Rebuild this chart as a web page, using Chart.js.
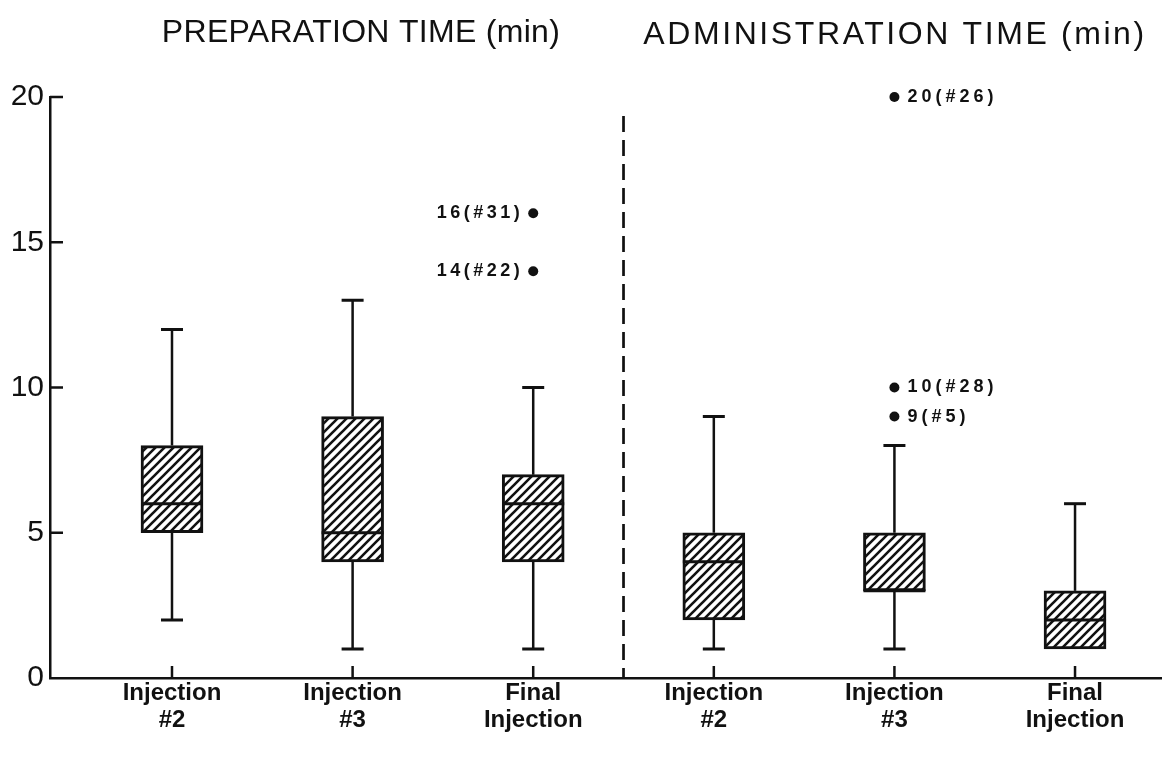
<!DOCTYPE html>
<html>
<head>
<meta charset="utf-8">
<title>Preparation and administration time</title>
<script src="https://cdn.jsdelivr.net/npm/chart.js@4.4.1/dist/chart.umd.min.js"></script>
<style>
  html, body { margin: 0; padding: 0; background: #fff; }
  canvas { display: block; }
</style>
</head>
<body>
<canvas id="boxChart" width="1166" height="759"></canvas>
<script>
// groups: 3 preparation-time boxes, then 3 administration-time boxes
const categories = [
  ["Injection", "#2"],
  ["Injection", "#3"],
  ["Final", "Injection"],
  ["Injection", "#2"],
  ["Injection", "#3"],
  ["Final", "Injection"],
];
const whiskerLow = [2, 1, 1, 1, 1, 1];
const quartile1 = [5, 4, 4, 2, 3, 1];
const median = [6, 5, 6, 4, 3, 2];
const quartile3 = [8, 9, 7, 5, 5, 3];
const whiskerHigh = [12, 13, 10, 9, 8, 6];

// outliers: group index, minutes, patient number
const outlierGroup = [2, 2, 4, 4, 4];
const outlierValue = [16, 14, 20, 10, 9];
const outlierCase = ["#31", "#22", "#26", "#28", "#5"];

const yTicks = [0, 5, 10, 15, 20];
const panelTitles = ["PREPARATION TIME (min)", "ADMINISTRATION TIME (min)"];
const dividerAt = 2.5;

const INK = "#111";

function makeHatch() {
  const size = 9;
  const c = document.createElement("canvas");
  c.width = size;
  c.height = size;
  const g = c.getContext("2d");
  g.fillStyle = "#fff";
  g.fillRect(0, 0, size, size);
  g.strokeStyle = INK;
  g.lineWidth = 2.6;
  g.beginPath();
  g.moveTo(-size, size * 2); g.lineTo(size * 2, -size);
  g.moveTo(-size, size); g.lineTo(size, -size);
  g.moveTo(0, size * 2); g.lineTo(size * 2, 0);
  g.stroke();
  return g.createPattern(c, "repeat");
}

const boxData = categories.map((_, i) => ({ x: i, y: [quartile1[i], quartile3[i]] }));
const outlierData = outlierValue.map((v, i) => ({ x: outlierGroup[i], y: v }));

const boxPlotPlugin = {
  id: "boxPlot",
  afterDatasetsDraw(chart) {
    const { ctx, scales: { x, y } } = chart;
    ctx.save();
    ctx.strokeStyle = INK;
    ctx.lineCap = "butt";

    // whiskers, caps and medians
    categories.forEach((_, i) => {
      const cx = x.getPixelForValue(i);
      const yLow = y.getPixelForValue(whiskerLow[i]);
      const yHigh = y.getPixelForValue(whiskerHigh[i]);
      const yQ1 = y.getPixelForValue(quartile1[i]);
      const yQ3 = y.getPixelForValue(quartile3[i]);
      const yMed = y.getPixelForValue(median[i]);

      ctx.lineWidth = 2.5;
      ctx.beginPath();
      ctx.moveTo(cx, yQ3); ctx.lineTo(cx, yHigh);
      if (whiskerLow[i] < quartile1[i]) {
        ctx.moveTo(cx, yQ1); ctx.lineTo(cx, yLow);
      }
      ctx.stroke();

      ctx.lineWidth = 3;
      ctx.beginPath();
      ctx.moveTo(cx - 11, yHigh); ctx.lineTo(cx + 11, yHigh);
      if (whiskerLow[i] < quartile1[i]) {
        ctx.moveTo(cx - 11, yLow); ctx.lineTo(cx + 11, yLow);
      }
      ctx.stroke();

      ctx.lineWidth = 3;
      ctx.beginPath();
      ctx.moveTo(cx - 31, yMed); ctx.lineTo(cx + 31, yMed);
      ctx.stroke();
    });

    // outlier labels
    ctx.fillStyle = INK;
    ctx.font = "bold 18px 'Liberation Sans', Arial, sans-serif";
    ctx.textBaseline = "middle";
    outlierValue.forEach((v, i) => {
      const px = x.getPixelForValue(outlierGroup[i]);
      const py = y.getPixelForValue(v);
      const text = v + "(" + outlierCase[i] + ")";
      if (outlierGroup[i] < dividerAt) {
        ctx.letterSpacing = "3.5px";
        ctx.textAlign = "right";
        ctx.fillText(text, px - 10, py);
      } else {
        ctx.letterSpacing = "4px";
        ctx.textAlign = "left";
        ctx.fillText(text, px + 13, py);
      }
    });
    ctx.restore();
  },
  afterDraw(chart) {
    const { ctx, chartArea, scales: { x, y } } = chart;
    ctx.save();
    ctx.strokeStyle = INK;

    // inward tick marks
    ctx.lineWidth = 2.5;
    ctx.beginPath();
    yTicks.slice(1).forEach((t) => {
      const py = y.getPixelForValue(t);
      ctx.moveTo(chartArea.left, py);
      ctx.lineTo(chartArea.left + 13, py);
    });
    categories.forEach((_, i) => {
      const px = x.getPixelForValue(i);
      ctx.moveTo(px, chartArea.bottom);
      ctx.lineTo(px, chartArea.bottom - 12);
    });
    ctx.stroke();

    // dashed divider between the two panels
    const dx = x.getPixelForValue(dividerAt);
    ctx.lineWidth = 2.7;
    ctx.setLineDash([16, 8]);
    ctx.beginPath();
    ctx.moveTo(dx, y.getPixelForValue(19.35));
    ctx.lineTo(dx, chartArea.bottom);
    ctx.stroke();
    ctx.setLineDash([]);

    // panel titles
    ctx.fillStyle = INK;
    ctx.font = "32px 'Liberation Sans', Arial, sans-serif";
    ctx.textAlign = "center";
    ctx.textBaseline = "middle";
    ctx.letterSpacing = "0.3px";
    ctx.fillText(panelTitles[0], 361, 33);
    ctx.letterSpacing = "2.6px";
    ctx.fillText(panelTitles[1], 895, 35);
    ctx.restore();
  },
};

const ctx = document.getElementById("boxChart").getContext("2d");

const boxChart = new Chart(ctx, {
  type: "bar",
  data: {
    datasets: [
      {
        type: "bar",
        data: boxData,
        backgroundColor: makeHatch(),
        borderColor: INK,
        borderWidth: 3,
        borderSkipped: false,
        barThickness: 62,
      },
      {
        type: "scatter",
        data: outlierData,
        backgroundColor: INK,
        borderWidth: 0,
        pointRadius: 5,
        clip: false,
      },
    ],
  },
  options: {
    responsive: false,
    animation: false,
    devicePixelRatio: 1,
    layout: { padding: { top: 97, right: 0, bottom: 0, left: 0 } },
    plugins: {
      legend: { display: false },
      tooltip: { enabled: false },
    },
    scales: {
      x: {
        type: "linear",
        min: -0.6755,
        max: 5.476,
        offset: false,
        border: { color: INK, width: 2.5 },
        grid: { display: false, drawTicks: false, offset: false },
        afterFit(scale) { scale.height = 759 - 678; },
        ticks: {
          stepSize: 1,
          includeBounds: false,
          autoSkip: false,
          maxRotation: 0,
          padding: 2,
          color: INK,
          font: { family: "'Liberation Sans', Arial, sans-serif", size: 24, weight: "bold", lineHeight: 1.12 },
          callback: (v) => (Number.isInteger(v) && categories[v] ? categories[v] : ""),
        },
      },
      y: {
        min: 0,
        max: 20,
        border: { color: INK, width: 2.5 },
        grid: { display: false, drawTicks: false },
        afterFit(scale) { scale.width = 50; },
        afterBuildTicks(scale) { scale.ticks = yTicks.map((v) => ({ value: v })); },
        ticks: {
          padding: 6,
          color: INK,
          font: { family: "'Liberation Sans', Arial, sans-serif", size: 30 },
        },
      },
    },
  },
  plugins: [boxPlotPlugin],
});
</script>
</body>
</html>
